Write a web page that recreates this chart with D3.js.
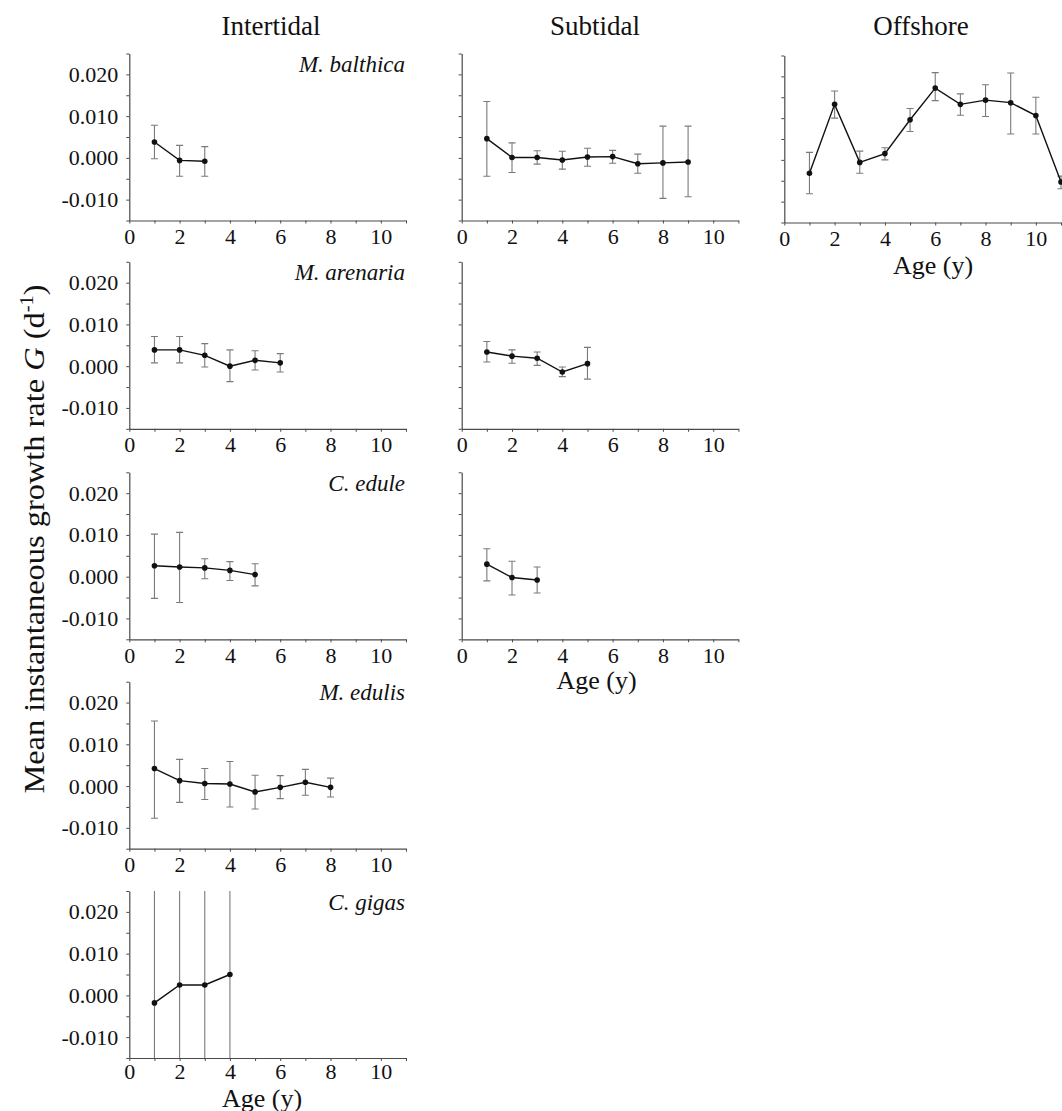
<!DOCTYPE html>
<html><head><meta charset="utf-8">
<script src="https://cdn.jsdelivr.net/npm/d3@7"></script>
<style>
body{margin:0;background:#fff;}
svg text{font-family:"Liberation Serif","Times New Roman",serif;fill:#111;}
</style>
</head><body><svg id="c" width="1062" height="1111"></svg>
<script>
// ---------- data ----------
const zones = ["Intertidal", "Subtidal", "Offshore"];
const xTickValues = [0,1,2,3,4,5,6,7,8,9,10,11];
const xTickLabels = [0, 2, 4, 6, 8, 10];
const yTickValues = [-0.015,-0.010,-0.005,0.000,0.005,0.010,0.015,0.020,0.025];
const yTickLabels = [-0.010, 0.000, 0.010, 0.020];
const xAxisTitle = "Age (y)";

// Intertidal M. balthica
const balthicaIntAge  = [1, 2, 3];
const balthicaIntMean = [0.0038, -0.0006, -0.0008];
const balthicaIntLo   = [-0.0002, -0.0044, -0.0044];
const balthicaIntHi   = [0.0078, 0.0030, 0.0027];
// Subtidal M. balthica
const balthicaSubAge  = [1, 2, 3, 4, 5, 6, 7, 8, 9];
const balthicaSubMean = [0.0046, 0.0001, 0.0001, -0.0005, 0.0002, 0.0003, -0.0014, -0.0012, -0.0010];
const balthicaSubLo   = [-0.0044, -0.0035, -0.0015, -0.0027, -0.0020, -0.0013, -0.0037, -0.0097, -0.0093];
const balthicaSubHi   = [0.0135, 0.0036, 0.0017, 0.0016, 0.0023, 0.0018, 0.0009, 0.0076, 0.0076];
// Offshore M. balthica
const balthicaOffAge  = [1, 2, 3, 4, 5, 6, 7, 8, 9, 10, 11];
const balthicaOffMean = [-0.0032, 0.0133, -0.0006, 0.0015, 0.0096, 0.0172, 0.0133, 0.0143, 0.0137, 0.0106, -0.0053];
const balthicaOffLo   = [-0.0081, 0.0100, -0.0032, 0.0000, 0.0068, 0.0142, 0.0107, 0.0104, 0.0062, 0.0062, -0.0069];
const balthicaOffHi   = [0.0018, 0.0165, 0.0021, 0.0029, 0.0123, 0.0209, 0.0158, 0.0180, 0.0208, 0.0150, -0.0039];
// Intertidal M. arenaria
const arenariaIntAge  = [1, 2, 3, 4, 5, 6];
const arenariaIntMean = [0.0039, 0.0039, 0.0026, 0.0000, 0.0014, 0.0008];
const arenariaIntLo   = [0.0008, 0.0008, -0.0002, -0.0037, -0.0009, -0.0014];
const arenariaIntHi   = [0.0071, 0.0071, 0.0054, 0.0039, 0.0037, 0.0030];
// Subtidal M. arenaria
const arenariaSubAge  = [1, 2, 3, 4, 5];
const arenariaSubMean = [0.0034, 0.0024, 0.0019, -0.0014, 0.0006];
const arenariaSubLo   = [0.0010, 0.0007, 0.0002, -0.0025, -0.0031];
const arenariaSubHi   = [0.0059, 0.0039, 0.0034, -0.0002, 0.0045];
// Intertidal C. edule
const eduleIntAge  = [1, 2, 3, 4, 5];
const eduleIntMean = [0.0026, 0.0023, 0.0021, 0.0015, 0.0005];
const eduleIntLo   = [-0.0052, -0.0062, -0.0005, -0.0009, -0.0022];
const eduleIntHi   = [0.0102, 0.0106, 0.0043, 0.0036, 0.0031];
// Subtidal C. edule
const eduleSubAge  = [1, 2, 3];
const eduleSubMean = [0.0030, -0.0002, -0.0008];
const eduleSubLo   = [-0.0010, -0.0044, -0.0039];
const eduleSubHi   = [0.0067, 0.0037, 0.0023];
// Intertidal M. edulis
const edulisIntAge  = [1, 2, 3, 4, 5, 6, 7, 8];
const edulisIntMean = [0.0042, 0.0013, 0.0006, 0.0005, -0.0014, -0.0003, 0.0009, -0.0003];
const edulisIntLo   = [-0.0077, -0.0039, -0.0032, -0.0050, -0.0055, -0.0030, -0.0022, -0.0026];
const edulisIntHi   = [0.0156, 0.0064, 0.0042, 0.0059, 0.0026, 0.0025, 0.0040, 0.0019];
// Intertidal C. gigas (error bars run past the plotted range)
const gigasIntAge  = [1, 2, 3, 4];
const gigasIntMean = [-0.0018, 0.0025, 0.0025, 0.0050];
const gigasIntLo   = [-0.040, -0.040, -0.040, -0.040];
const gigasIntHi   = [0.050, 0.050, 0.050, 0.050];

const panels = [
  {col:0,row:0,species:"M. balthica",age:balthicaIntAge,mean:balthicaIntMean,lo:balthicaIntLo,hi:balthicaIntHi},
  {col:1,row:0,species:"",age:balthicaSubAge,mean:balthicaSubMean,lo:balthicaSubLo,hi:balthicaSubHi},
  {col:2,row:0,species:"",age:balthicaOffAge,mean:balthicaOffMean,lo:balthicaOffLo,hi:balthicaOffHi},
  {col:0,row:1,species:"M. arenaria",age:arenariaIntAge,mean:arenariaIntMean,lo:arenariaIntLo,hi:arenariaIntHi},
  {col:1,row:1,species:"",age:arenariaSubAge,mean:arenariaSubMean,lo:arenariaSubLo,hi:arenariaSubHi},
  {col:0,row:2,species:"C. edule",age:eduleIntAge,mean:eduleIntMean,lo:eduleIntLo,hi:eduleIntHi},
  {col:1,row:2,species:"",age:eduleSubAge,mean:eduleSubMean,lo:eduleSubLo,hi:eduleSubHi},
  {col:0,row:3,species:"M. edulis",age:edulisIntAge,mean:edulisIntMean,lo:edulisIntLo,hi:edulisIntHi},
  {col:0,row:4,species:"C. gigas",age:gigasIntAge,mean:gigasIntMean,lo:gigasIntLo,hi:gigasIntHi}
];

// ---------- layout ----------
const colLeft = [129.3, 461.7, 784.3];
const colTopShift = [0, 0, 2];
const rowTop = [53.5, 261.8, 472.3, 681.7, 891];
const rowTickPad = [5, 5, 5, 5, 2];
const W = 276.7, H = 167;
const titleX = [271, 595, 921];
const FONT = "Liberation Serif, Times New Roman, serif";

const svg = d3.select("#c");
const axisColor = "#4a4a4a";
const fmt = d => (d < 0 ? "-" : "") + Math.abs(d).toFixed(3);

zones.forEach((z, i) => {
  svg.append("text").attr("x", titleX[i]).attr("y", 34.5)
    .attr("text-anchor", "middle").attr("font-family", FONT).attr("font-size", 27).text(z);
});

// y axis title
const yt = svg.append("text")
  .attr("transform", "translate(44,539) rotate(-90) scale(1.08,1)")
  .attr("text-anchor", "middle").attr("font-family", FONT).attr("font-size", 30);
yt.append("tspan").text("Mean instantaneous growth rate ");
yt.append("tspan").attr("font-style", "italic").text("G");
yt.append("tspan").text(" (d");
yt.append("tspan").attr("dy", -11).attr("font-size", 19).text("-1");
yt.append("tspan").attr("dy", 11).text(")");

panels.forEach((p, k) => {
  const left = colLeft[p.col];
  const top = rowTop[p.row] + colTopShift[p.col];
  const g = svg.append("g").attr("transform", `translate(${left},${top})`);
  const x = d3.scaleLinear().domain([0, 11]).range([0, W]);
  const y = d3.scaleLinear().domain([-0.015, 0.025]).range([H, 0]);

  const clipId = "clip" + k;
  g.append("clipPath").attr("id", clipId).append("rect")
    .attr("x", -5).attr("y", 0).attr("width", W + 10).attr("height", H);

  // axes
  const xa = g.append("g").attr("transform", `translate(0,${H})`)
    .call(d3.axisBottom(x).tickValues(xTickValues).tickSize(3).tickSizeOuter(0).tickPadding(rowTickPad[p.row])
      .tickFormat(d => xTickLabels.includes(d) ? d : ""));
  const ya = g.append("g")
    .call(d3.axisLeft(y).tickValues(yTickValues).tickSize(3).tickSizeOuter(0).tickPadding(8)
      .tickFormat(d => (p.col === 0 && yTickLabels.some(v => Math.abs(v - d) < 1e-9)) ? fmt(d) : ""));
  [xa, ya].forEach(a => {
    a.attr("font-family", FONT).attr("font-size", 22);
    a.selectAll("path.domain").attr("stroke", axisColor).attr("stroke-width", 1.2);
    a.selectAll(".tick line").attr("stroke", axisColor).attr("stroke-width", 1);
    a.selectAll(".tick text").attr("fill", "#111");
  });

  const pts = p.age.map((a, i) => ({a, m: p.mean[i], lo: p.lo[i], hi: p.hi[i]}));
  const eb = g.append("g").attr("clip-path", `url(#${clipId})`)
    .attr("stroke", "#7a7a7a").attr("stroke-width", 1.1);
  pts.forEach(d => {
    eb.append("line").attr("x1", x(d.a)).attr("x2", x(d.a)).attr("y1", y(d.lo)).attr("y2", y(d.hi));
    eb.append("line").attr("x1", x(d.a) - 3.5).attr("x2", x(d.a) + 3.5).attr("y1", y(d.lo)).attr("y2", y(d.lo));
    eb.append("line").attr("x1", x(d.a) - 3.5).attr("x2", x(d.a) + 3.5).attr("y1", y(d.hi)).attr("y2", y(d.hi));
  });

  g.append("path").datum(pts)
    .attr("d", d3.line().x(d => x(d.a)).y(d => y(d.m)))
    .attr("fill", "none").attr("stroke", "#111").attr("stroke-width", 1.4);
  g.selectAll("circle.pt").data(pts).enter().append("circle")
    .attr("cx", d => x(d.a)).attr("cy", d => y(d.m)).attr("r", 2.8).attr("fill", "#111");

  if (p.species) {
    g.append("text").attr("x", W - 1).attr("y", 18.5).attr("text-anchor", "end")
      .attr("font-family", FONT).attr("font-size", 23).attr("font-style", "italic").text(p.species);
  }
});

// x-axis titles
const ageTitlePos = [[933, 273.5], [596.5, 689], [262, 1106.5]];
ageTitlePos.forEach(([ax, ay]) => {
  svg.append("text").attr("x", ax).attr("y", ay).attr("text-anchor", "middle")
    .attr("font-family", FONT).attr("font-size", 26).text(xAxisTitle);
});
</script>
</body></html>
